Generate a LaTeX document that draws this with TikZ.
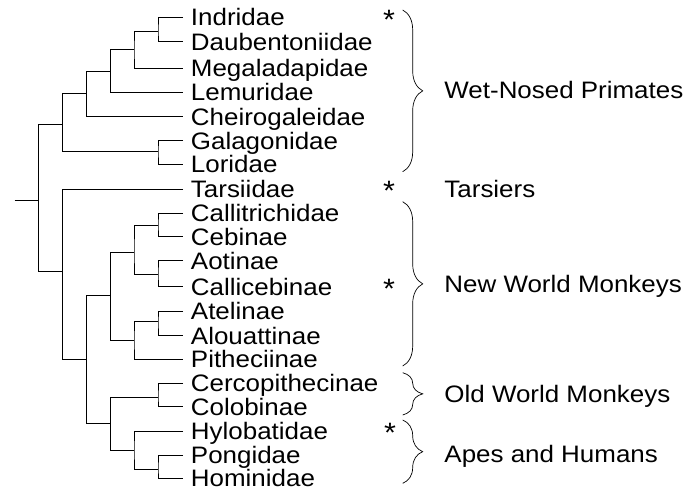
\documentclass[tikz,border=0pt]{standalone}
\usepackage{fontspec}
\setmainfont[FakeStretch=1.09]{Liberation Sans}
\usetikzlibrary{decorations.pathreplacing}

\begin{document}
\begin{tikzpicture}[x=1pt, y=-1pt, line width=0.9pt,
    leaf/.style={anchor=west, inner xsep=7.5pt, inner ysep=0pt, text height=17pt, text depth=0pt, font=\fontsize{23.8}{24}\selectfont},
    group/.style={anchor=west, inner sep=0pt, text height=17pt, text depth=0pt, font=\fontsize{23.8}{24}\selectfont},
    star/.style={anchor=north, inner sep=0pt, font=\fontsize{28}{28}\selectfont},
    clade/.style={decorate, decoration={brace, amplitude=20pt}, line width=0.7pt}]
    \useasboundingbox (0,0) rectangle (691,490);

    % Leaves
    \node[leaf] (indridae) at (183,17.3) {Indridae};
    \node[leaf] (daubentoniidae) at (183,41.7) {Daubentoniidae};
    \node[leaf] (megaladapidae) at (183,68.3) {Megaladapidae};
    \node[leaf] (lemuridae) at (183,92.3) {Lemuridae};
    \node[leaf] (cheirogaleidae) at (183,116.7) {Cheirogaleidae};
    \node[leaf] (galagonidae) at (183,140.7) {Galagonidae};
    \node[leaf] (loridae) at (183,164) {Loridae};
    \node[leaf] (tarsiidae) at (183,189) {Tarsiidae};
    \node[leaf] (callitrichidae) at (183,213) {Callitrichidae};
    \node[leaf] (cebinae) at (183,236.7) {Cebinae};
    \node[leaf] (aotinae) at (183,260.7) {Aotinae};
    \node[leaf] (callicebinae) at (183,286.7) {Callicebinae};
    \node[leaf] (atelinae) at (183,311) {Atelinae};
    \node[leaf] (alouattinae) at (183,335.7) {Alouattinae};
    \node[leaf] (pitheciinae) at (183,359) {Pitheciinae};
    \node[leaf] (cercopithecinae) at (183,383.3) {Cercopithecinae};
    \node[leaf] (colobinae) at (183,406.7) {Colobinae};
    \node[leaf] (hylobatidae) at (183,431) {Hylobatidae};
    \node[leaf] (pongidae) at (183,455) {Pongidae};
    \node[leaf] (hominidae) at (183,478.3) {Hominidae};

    % Inner nodes
    \coordinate (ID) at (158,31);
    \coordinate (IDM) at (134,49.7);
    \coordinate (IDML) at (110.7,71);
    \coordinate (IDMLC) at (86.7,93);
    \coordinate (GL) at (158,151);
    \coordinate (WET) at (62.7,124);
    \coordinate (CC) at (158,225);
    \coordinate (AC) at (158,274);
    \coordinate (CCAC) at (134,252.3);
    \coordinate (AA) at (158,321.7);
    \coordinate (AAP) at (134,340);
    \coordinate (NWM) at (110.7,295);
    \coordinate (CeCo) at (158,397.3);
    \coordinate (PH) at (158,469);
    \coordinate (HPH) at (134,450);
    \coordinate (OWA) at (110.7,423);
    \coordinate (ANTH) at (86.7,359);
    \coordinate (HAP) at (62.7,271);
    \coordinate (ROOT) at (38.7,200);
    \coordinate (stub) at (14.7,200);

    % Branches
    \draw (indridae.west) -| (ID) |- (daubentoniidae.west);
    \draw (ID) -| (IDM) |- (megaladapidae.west);
    \draw (IDM) -| (IDML) |- (lemuridae.west);
    \draw (IDML) -| (IDMLC) |- (cheirogaleidae.west);
    \draw (galagonidae.west) -| (GL) |- (loridae.west);
    \draw (IDMLC) -| (WET) |- (GL);
    \draw (callitrichidae.west) -| (CC) |- (cebinae.west);
    \draw (aotinae.west) -| (AC) |- (callicebinae.west);
    \draw (CC) -| (CCAC) |- (AC);
    \draw (atelinae.west) -| (AA) |- (alouattinae.west);
    \draw (AA) -| (AAP) |- (pitheciinae.west);
    \draw (CCAC) -| (NWM) |- (AAP);
    \draw (cercopithecinae.west) -| (CeCo) |- (colobinae.west);
    \draw (pongidae.west) -| (PH) |- (hominidae.west);
    \draw (hylobatidae.west) -| (HPH) |- (PH);
    \draw (CeCo) -| (OWA) |- (HPH);
    \draw (NWM) -| (ANTH) |- (OWA);
    \draw (tarsiidae.west) -| (HAP) |- (ANTH);
    \draw (WET) -| (ROOT) |- (HAP);
    \draw (stub) -- (ROOT);

    % Stars
    \node[star] (s1) at (389,9.3) {*};
    \node[star] (s2) at (389,181) {*};
    \node[star] (s3) at (389,278.3) {*};
    \node[star] (s4) at (390,423) {*};

    % Braces
    \coordinate (wetTop) at (402.7,10);
    \coordinate (wetBot) at (402.7,171.7);
    \coordinate (nwmTop) at (402.7,201.7);
    \coordinate (nwmBot) at (402.7,366);
    \coordinate (owmTop) at (402.7,372.7);
    \coordinate (owmBot) at (402.7,415);
    \coordinate (apeTop) at (402.7,420);
    \coordinate (apeBot) at (402.7,483.3);
    \draw[clade] (wetTop) -- (wetBot);
    \draw[clade] (nwmTop) -- (nwmBot);
    \draw[clade] (owmTop) -- (owmBot);
    \draw[clade] (apeTop) -- (apeBot);

    \node[group] (wetLabel) at (444,90) {Wet-Nosed Primates};
    \node[group] (tarsLabel) at (444,188.5) {Tarsiers};
    \node[group] (nwmLabel) at (444,283.5) {New World Monkeys};
    \node[group] (owmLabel) at (444,394) {Old World Monkeys};
    \node[group] (apeLabel) at (444,454) {Apes and Humans};
\end{tikzpicture}
\end{document}
